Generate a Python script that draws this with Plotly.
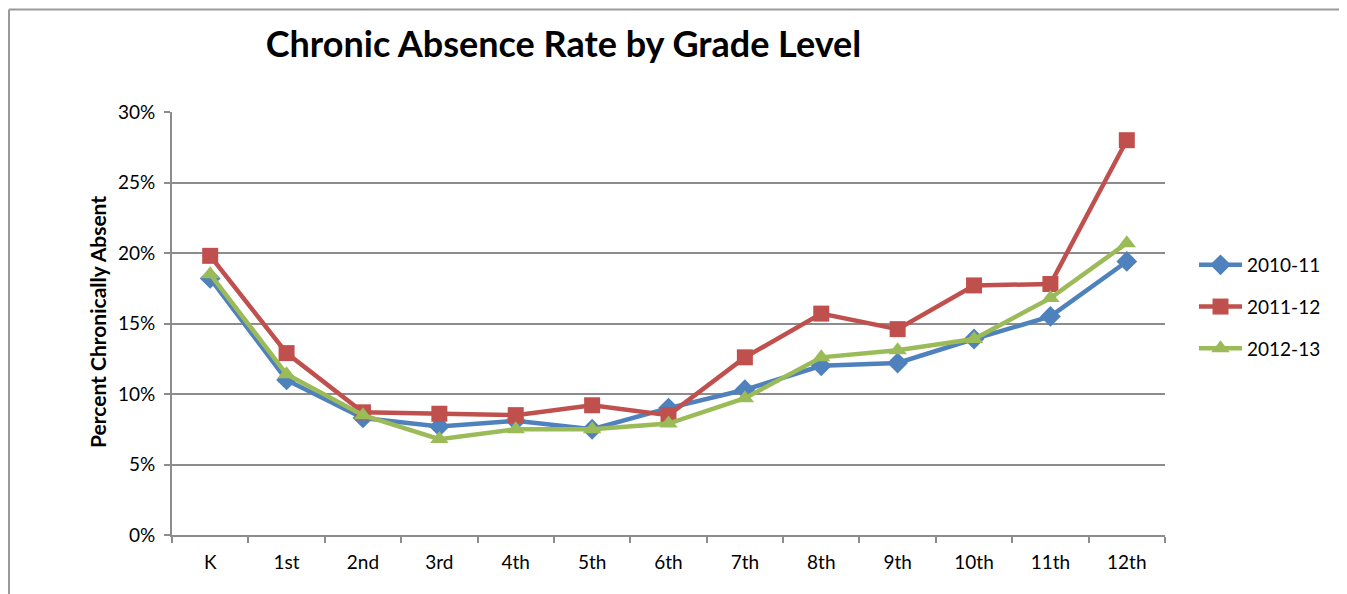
import plotly.graph_objects as go

grades = ["K", "1st", "2nd", "3rd", "4th", "5th", "6th", "7th", "8th", "9th", "10th", "11th", "12th"]
s2010 = [0.182, 0.110, 0.083, 0.077, 0.081, 0.075, 0.090, 0.103, 0.120, 0.122, 0.139, 0.155, 0.194]
s2011 = [0.198, 0.129, 0.087, 0.086, 0.085, 0.092, 0.085, 0.126, 0.157, 0.146, 0.177, 0.178, 0.280]
s2012 = [0.185, 0.114, 0.085, 0.068, 0.075, 0.075, 0.079, 0.097, 0.126, 0.131, 0.139, 0.168, 0.207]
series_names = ["2010-11", "2011-12", "2012-13"]
colors = ["#4F81BD", "#C0504D", "#9BBB59"]
symbols = ["diamond", "square", "triangle-up"]
sizes = [16, 16, 16]

# page has an 8px body margin; figure coordinates = image coordinates - 8
OFF = 8
W, H = 1347 - OFF, 594 - OFF
L, R, T, B = 172 - OFF, 1165 - OFF, 112 - OFF, 535 - OFF
FONT = "Lato"

fig = go.Figure()
for name, vals, c, sym, sz in zip(series_names, [s2010, s2011, s2012], colors, symbols, sizes):
    fig.add_trace(go.Scatter(
        x=grades, y=vals, name=name, mode="lines+markers",
        line=dict(color=c, width=4.5),
        marker=dict(symbol=sym, size=sz, color=c),
        legendgroup=name,
    ))

def px_x(x):
    return (x - OFF - L) / (R - L)

def px_y(y):
    return (B - (y - OFF)) / (B - T)

fig.update_layout(
    width=W, height=H,
    margin=dict(l=L, r=W - R, t=T, b=H - B),
    paper_bgcolor="white", plot_bgcolor="white",
    font=dict(family=FONT, size=19, color="black"),
    title=dict(text="<b>Chronic Absence Rate by Grade Level</b>",
               font=dict(family=FONT, size=36, color="black"),
               xref="paper", x=px_x(563.5), xanchor="center",
               yref="container", y=1 - (44 - OFF) / H, yanchor="middle"),
    xaxis=dict(range=[-0.5, 12.5], showgrid=False, showline=True, linecolor="#8c8c8c", linewidth=2,
               ticks="outside", tickson="boundaries", ticklen=6, tickcolor="#8c8c8c", tickwidth=2,
               ticklabelstandoff=9,
               tickfont=dict(family=FONT, size=19, color="black")),
    yaxis=dict(range=[0, 0.30], dtick=0.05, tickformat=".0%",
               showgrid=True, gridcolor="#8c8c8c", gridwidth=2,
               showline=True, linecolor="#8c8c8c", linewidth=2,
               ticks="outside", ticklen=6, tickcolor="#8c8c8c", tickwidth=2,
               ticklabelstandoff=5,
               zeroline=False,
               tickfont=dict(family=FONT, size=19, color="black")),
    legend=dict(x=px_x(1194), xanchor="left", y=px_y(307), yanchor="middle",
                font=dict(family=FONT, size=19, color="black"),
                itemwidth=43,
                tracegroupgap=14, bgcolor="rgba(0,0,0,0)"),
    showlegend=True,
)

fig.add_annotation(text="<b>Percent Chronically Absent</b>", textangle=-90,
                   xref="paper", yref="paper", x=px_x(97), y=px_y(322),
                   xanchor="center", yanchor="middle", showarrow=False,
                   font=dict(family=FONT, size=21, color="black"))

# outer chart border (top and left edges visible)
fig.add_shape(type="line", xref="paper", yref="paper",
              x0=px_x(OFF + 1), x1=px_x(1360), y0=px_y(OFF + 1.5), y1=px_y(OFF + 1.5),
              line=dict(color="#9a9a9a", width=2))
fig.add_shape(type="line", xref="paper", yref="paper",
              x0=px_x(OFF + 1), x1=px_x(OFF + 1), y0=px_y(OFF + 1.5), y1=px_y(610),
              line=dict(color="#9a9a9a", width=2))

fig.write_html("out.html")
